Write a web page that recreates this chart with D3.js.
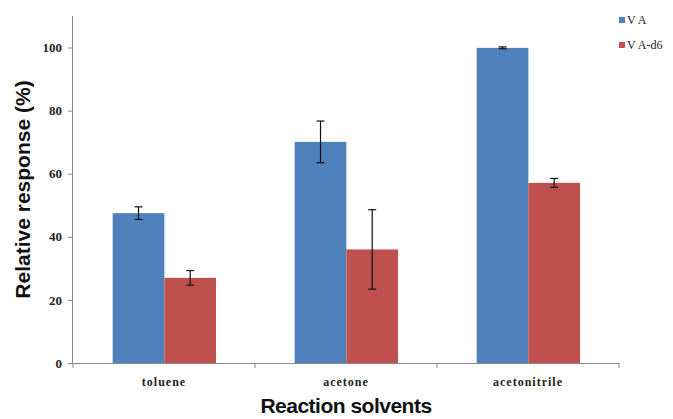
<!DOCTYPE html>
<html>
<head>
<meta charset="utf-8">
<script src="https://cdn.jsdelivr.net/npm/d3@7"></script>
<style>
  body { margin: 0; background: #fff; }
  svg { display: block; }
</style>
</head>
<body>
<svg id="chart" width="673" height="419"></svg>
<script>
const solvents = ['toluene', 'acetone', 'acetonitrile'];
const seriesNames = ['V A', 'V A-d6'];
const vaValues = [47.5, 70.1, 99.9];
const vaErrors = [2.0, 6.6, 0.3];
const vad6Values = [27.0, 36.0, 57.1];
const vad6Errors = [2.3, 12.6, 1.4];
const yTicks = [0, 20, 40, 60, 80, 100];

const colors = ['#4F81BD', '#C0504D'];
const svg = d3.select('#chart');

const margin = { left: 73, right: 54, top: 16, bottom: 56 };
const width = 673 - margin.left - margin.right;
const height = 419 - margin.top - margin.bottom;

const g = svg.append('g').attr('transform', `translate(${margin.left},${margin.top})`);

const x = d3.scaleBand().domain(solvents).range([0, width]);
const xSub = d3.scaleBand().domain([0, 1]).range([x.bandwidth() * 0.218, x.bandwidth() * 0.786]);
const y = d3.scaleLinear().domain([0, 110]).range([height, 0]);

const series = [
  { values: vaValues, errors: vaErrors },
  { values: vad6Values, errors: vad6Errors }
];

// Bars
series.forEach((s, si) => {
  g.append('g')
    .selectAll('rect')
    .data(solvents)
    .enter()
    .append('rect')
    .attr('x', d => x(d) + xSub(si))
    .attr('y', (d, i) => y(s.values[i]))
    .attr('width', xSub.bandwidth())
    .attr('height', (d, i) => height - y(s.values[i]))
    .attr('fill', colors[si]);
});

// Error bars
series.forEach((s, si) => {
  const eg = g.append('g').attr('stroke', '#111').attr('stroke-width', 1.2);
  solvents.forEach((d, i) => {
    const cx = x(d) + xSub(si) + xSub.bandwidth() / 2;
    const hi = y(s.values[i] + s.errors[i]);
    const lo = y(s.values[i] - s.errors[i]);
    eg.append('line').attr('x1', cx).attr('x2', cx).attr('y1', hi).attr('y2', lo);
    eg.append('line').attr('x1', cx - 4).attr('x2', cx + 4).attr('y1', hi).attr('y2', hi);
    eg.append('line').attr('x1', cx - 4).attr('x2', cx + 4).attr('y1', lo).attr('y2', lo);
  });
});

// Y axis
const yAxis = g.append('g')
  .call(d3.axisLeft(y).tickValues(yTicks).tickSize(5).tickPadding(6).tickFormat(d3.format('d')));
yAxis.select('.domain').attr('stroke', '#888').attr('d', `M-0.5,${height}V0`);
yAxis.selectAll('.tick line').attr('stroke', '#888');
yAxis.selectAll('.tick text')
  .attr('fill', '#222')
  .style('font-family', '"Liberation Serif", "Times New Roman", serif')
  .style('font-weight', 'bold')
  .style('font-size', '13px');

// X axis
const xAxisG = g.append('g').attr('transform', `translate(0,${height})`);
xAxisG.append('line')
  .attr('x1', 0).attr('x2', width).attr('y1', 0.5).attr('y2', 0.5)
  .attr('stroke', '#888');
xAxisG.selectAll('line.tk')
  .data([0, ...solvents.map(d => x(d) + x.bandwidth())])
  .enter()
  .append('line')
  .attr('class', 'tk')
  .attr('x1', d => d).attr('x2', d => d)
  .attr('y1', 0).attr('y2', 5)
  .attr('stroke', '#888');
xAxisG.selectAll('text')
  .data(solvents)
  .enter()
  .append('text')
  .attr('x', d => x(d) + x.bandwidth() / 2)
  .attr('y', 23)
  .attr('text-anchor', 'middle')
  .attr('fill', '#222')
  .style('font-family', '"Liberation Serif", "Times New Roman", serif')
  .style('font-weight', 'bold')
  .style('font-size', '12px')
  .style('letter-spacing', '1px')
  .text(d => d);

// Axis titles
svg.append('text')
  .attr('x', margin.left + width / 2)
  .attr('y', 413)
  .attr('text-anchor', 'middle')
  .style('font-family', '"Liberation Sans", Arial, sans-serif')
  .style('font-weight', 'bold')
  .style('font-size', '21px')
  .style('letter-spacing', '-0.5px')
  .attr('fill', '#111')
  .text('Reaction solvents');

svg.append('text')
  .attr('transform', `translate(30,${margin.top + y(55)}) rotate(-90)`)
  .attr('text-anchor', 'middle')
  .style('font-family', '"Liberation Sans", Arial, sans-serif')
  .style('font-weight', 'bold')
  .style('font-size', '21px')
  .attr('fill', '#111')
  .text('Relative response (%)');

// Legend
const legend = svg.append('g').attr('transform', 'translate(619,17)');
seriesNames.forEach((name, i) => {
  const row = legend.append('g').attr('transform', `translate(0,${i * 25})`);
  row.append('rect').attr('width', 6).attr('height', 6).attr('fill', colors[i]);
  row.append('text')
    .attr('x', 8)
    .attr('y', 7)
    .attr('fill', '#222')
    .style('font-family', '"Liberation Serif", "Times New Roman", serif')
    .style('font-size', '12px')
    .text(name);
});
</script>
</body>
</html>
